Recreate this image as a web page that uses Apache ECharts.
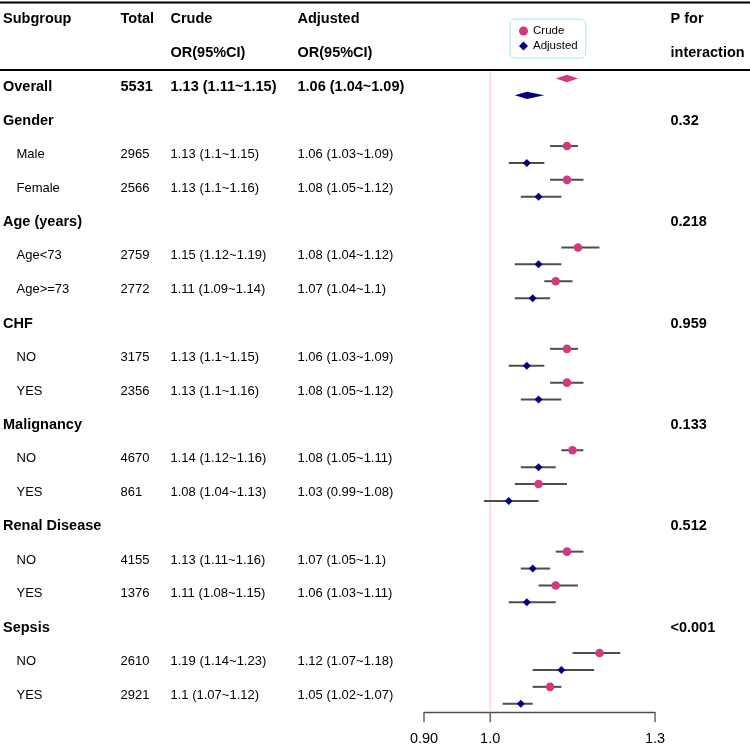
<!DOCTYPE html>
<html><head><meta charset="utf-8">
<script src="https://cdn.jsdelivr.net/npm/echarts@6/dist/echarts.min.js"></script>
<style>html,body{margin:0;padding:0;background:#fff}#c{width:750px;height:746px}</style>
</head><body><div id="c"></div>
<script>
// ---- data ----
const headerTop = ['Subgroup', 'Total', 'Crude', 'Adjusted', 'P for'];
const headerBottom = ['', '', 'OR(95%CI)', 'OR(95%CI)', 'interaction'];
const rowLabels = ['Overall','Gender','Male','Female','Age (years)','Age<73','Age>=73','CHF','NO','YES','Malignancy','NO','YES','Renal Disease','NO','YES','Sepsis','NO','YES'];
const isBold = [true,true,false,false,true,false,false,true,false,false,true,false,false,true,false,false,true,false,false];
const totals = ['5531','','2965','2566','','2759','2772','','3175','2356','','4670','861','','4155','1376','','2610','2921'];
const crudeText = ['1.13 (1.11~1.15)','','1.13 (1.1~1.15)','1.13 (1.1~1.16)','','1.15 (1.12~1.19)','1.11 (1.09~1.14)','','1.13 (1.1~1.15)','1.13 (1.1~1.16)','','1.14 (1.12~1.16)','1.08 (1.04~1.13)','','1.13 (1.11~1.16)','1.11 (1.08~1.15)','','1.19 (1.14~1.23)','1.1 (1.07~1.12)'];
const adjText = ['1.06 (1.04~1.09)','','1.06 (1.03~1.09)','1.08 (1.05~1.12)','','1.08 (1.04~1.12)','1.07 (1.04~1.1)','','1.06 (1.03~1.09)','1.08 (1.05~1.12)','','1.08 (1.05~1.11)','1.03 (0.99~1.08)','','1.07 (1.05~1.1)','1.06 (1.03~1.11)','','1.12 (1.07~1.18)','1.05 (1.02~1.07)'];
const pValues = ['','0.32','','','0.218','','','0.959','','','0.133','','','0.512','','','<0.001','',''];
const crudeOR = [1.13,null,1.13,1.13,null,1.15,1.11,null,1.13,1.13,null,1.14,1.08,null,1.13,1.11,null,1.19,1.10];
const crudeLo = [1.11,null,1.10,1.10,null,1.12,1.09,null,1.10,1.10,null,1.12,1.04,null,1.11,1.08,null,1.14,1.07];
const crudeHi = [1.15,null,1.15,1.16,null,1.19,1.14,null,1.15,1.16,null,1.16,1.13,null,1.16,1.15,null,1.23,1.12];
const adjOR = [1.06,null,1.06,1.08,null,1.08,1.07,null,1.06,1.08,null,1.08,1.03,null,1.07,1.06,null,1.12,1.05];
const adjLo = [1.04,null,1.03,1.05,null,1.04,1.04,null,1.03,1.05,null,1.05,0.99,null,1.05,1.03,null,1.07,1.02];
const adjHi = [1.09,null,1.09,1.12,null,1.12,1.10,null,1.09,1.12,null,1.11,1.08,null,1.10,1.11,null,1.18,1.07];
const xTicks = [0.9, 1.0, 1.3];
const xTickLabels = ['0.90', '1.0', '1.3'];
const refValue = 1.0;

// ---- styles ----
const FONT = '"Liberation Sans", Arial, sans-serif';
const CRUDE_COLOR = '#D4387E';
const ADJ_COLOR = '#000080';
const BAR_COLOR = '#4D4D4D';
const colX = [3, 120.5, 170.5, 297.5, 670.5];
const subIndent = 16.5;

function markerData(est, lo, hi) {
  const d = [];
  est.forEach((v, i) => { if (v != null) d.push([v, lo[i], hi[i], i]); });
  return d;
}

function markerRender(offset, shape) {
  return function (params, api) {
    const est = api.value(0), lo = api.value(1), hi = api.value(2), row = api.value(3);
    const y = row + offset;
    const pE = api.coord([est, y]), pL = api.coord([lo, y]), pH = api.coord([hi, y]);
    const color = api.visual('color');
    if (row === 0) {
      const h = 3.7;
      return { type: 'polygon', shape: { points: [[pL[0], pE[1]], [pE[0], pE[1] - h], [pH[0], pE[1]], [pE[0], pE[1] + h]] }, style: { fill: color } };
    }
    const children = [{ type: 'line', shape: { x1: pL[0], y1: pL[1], x2: pH[0], y2: pH[1] }, style: { stroke: BAR_COLOR, lineWidth: 2 } }];
    if (shape === 'circle') {
      children.push({ type: 'circle', shape: { cx: pE[0], cy: pE[1], r: 4.3 }, style: { fill: color } });
    } else {
      const s = 4;
      children.push({ type: 'polygon', shape: { points: [[pE[0] - s, pE[1]], [pE[0], pE[1] - s], [pE[0] + s, pE[1]], [pE[0], pE[1] + s]] }, style: { fill: color } });
    }
    return { type: 'group', children };
  };
}

function txt(text, x, y, bold, size, align) {
  return { type: 'text', style: { text, x, y, fill: '#000', font: (bold ? 'bold ' : '') + size + 'px ' + FONT, textAlign: align || 'left', textVerticalAlign: 'middle', verticalAlign: 'middle' } };
}

const chart = echarts.init(document.getElementById('c'), null, { renderer: 'canvas' });
chart.setOption({
  animation: false,
  backgroundColor: '#fff',
  grid: { left: 424, right: 95, top: 70, bottom: 33.8 },
  xAxis: {
    type: 'log', logBase: 10, min: 0.9, max: 1.3, position: 'bottom',
    axisLine: { show: true, onZero: false, lineStyle: { color: BAR_COLOR, width: 1.3 } },
    axisTick: { show: false }, axisLabel: { show: false }, splitLine: { show: false }
  },
  yAxis: { type: 'value', inverse: true, min: -0.5, max: 18.5, show: false },
  legend: {
    left: 510, top: 19, orient: 'vertical',
    padding: [6, 8, 6, 9], itemGap: 3, itemWidth: 9, itemHeight: 9,
    borderColor: '#9EECF4', borderWidth: 1, borderRadius: 5,
    textStyle: { fontSize: 11.5, fontFamily: FONT, color: '#000' },
    data: [
      { name: 'Crude', icon: 'circle', itemStyle: { color: CRUDE_COLOR } },
      { name: 'Adjusted', icon: 'diamond', itemStyle: { color: ADJ_COLOR } }
    ]
  },
  series: [
    {
      type: 'custom', name: 'ref', silent: true, clip: false, z: 1,
      data: [[refValue]],
      renderItem: (params, api) => {
        const a = api.coord([api.value(0), -0.5]), b = api.coord([api.value(0), 18.5]);
        return { type: 'line', shape: { x1: a[0], y1: a[1], x2: b[0], y2: b[1] }, style: { stroke: '#FFC0CB', lineWidth: 1 } };
      }
    },
    {
      type: 'custom', name: 'xticks', silent: true, clip: false, z: 2,
      data: xTicks.map((v, i) => [v, i]),
      renderItem: (params, api) => {
        const p = api.coord([api.value(0), 18.5]);
        return { type: 'group', children: [
          { type: 'line', shape: { x1: p[0], y1: p[1], x2: p[0], y2: p[1] + 10 }, style: { stroke: BAR_COLOR, lineWidth: 1.3 } },
          txt(xTickLabels[api.value(1)], p[0], p[1] + 27, false, 14.5, 'center')
        ] };
      }
    },
    {
      type: 'custom', name: 'header', silent: true, clip: false, z: 2,
      data: [[1, -2, 0], [1, -1, 1]],
      renderItem: (params, api) => {
        const y = api.coord([1, api.value(1)])[1];
        const arr = api.value(2) === 0 ? headerTop : headerBottom;
        const children = [];
        arr.forEach((t, k) => { if (t) children.push(txt(t, colX[k], y, true, 14.5)); });
        if (api.value(2) === 0) {
          const ly = api.coord([1, -2.5])[1];
          children.push({ type: 'line', shape: { x1: 0, y1: ly, x2: 750, y2: ly }, style: { stroke: '#000', lineWidth: 2 } });
        } else {
          const by = api.coord([1, -0.5])[1];
          children.push({ type: 'line', shape: { x1: 0, y1: by, x2: 750, y2: by }, style: { stroke: '#000', lineWidth: 2 } });
        }
        return { type: 'group', children };
      }
    },
    {
      type: 'custom', name: 'table', silent: true, clip: false, z: 2,
      data: rowLabels.map((_, i) => [1, i]),
      renderItem: (params, api) => {
        const i = api.value(1);
        const y = api.coord([1, i])[1];
        const b = isBold[i];
        const size = b ? 14.5 : 13;
        const children = [txt(rowLabels[i], b ? colX[0] : subIndent, y, b, size)];
        if (totals[i]) children.push(txt(totals[i], colX[1], y, b, size));
        if (crudeText[i]) children.push(txt(crudeText[i], colX[2], y, b, size));
        if (adjText[i]) children.push(txt(adjText[i], colX[3], y, b, size));
        if (pValues[i]) children.push(txt(pValues[i], colX[4], y, true, 14.5));
        return { type: 'group', children };
      }
    },
    {
      type: 'custom', name: 'Crude', clip: false, z: 3,
      itemStyle: { color: CRUDE_COLOR },
      encode: { x: [0, 1, 2], y: 3 },
      data: markerData(crudeOR, crudeLo, crudeHi),
      renderItem: markerRender(-0.25, 'circle')
    },
    {
      type: 'custom', name: 'Adjusted', clip: false, z: 3,
      itemStyle: { color: ADJ_COLOR },
      encode: { x: [0, 1, 2], y: 3 },
      data: markerData(adjOR, adjLo, adjHi),
      renderItem: markerRender(0.25, 'diamond')
    }
  ]
});
</script>
</body></html>
